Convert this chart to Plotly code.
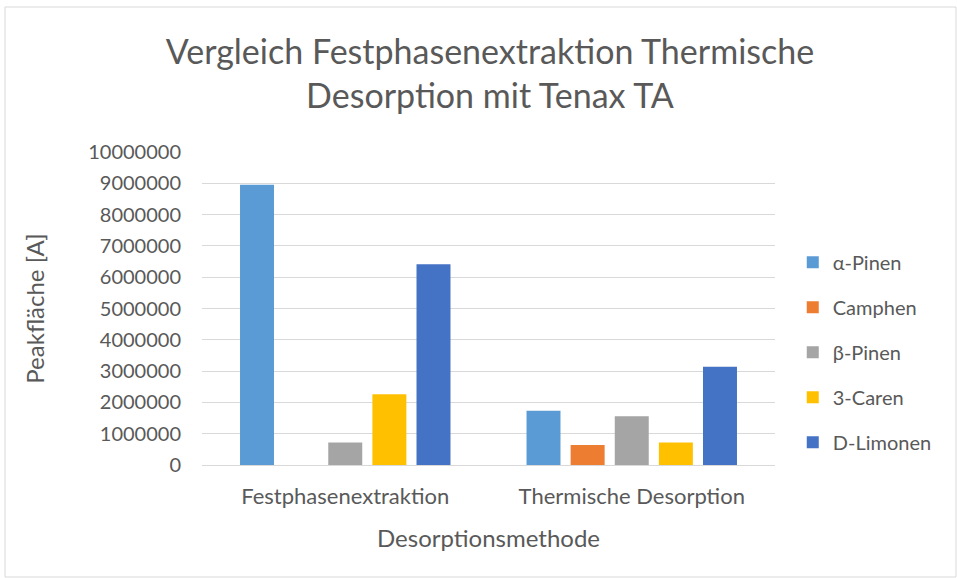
import plotly.graph_objects as go

# Daten
methods = ["Festphasenextraktion", "Thermische Desorption"]
compounds = ["α-Pinen", "Camphen", "β-Pinen", "3-Caren", "D-Limonen"]
alpha_pinen = [8950000, 1730000]
camphen = [0, 640000]
beta_pinen = [720000, 1560000]
caren = [2260000, 720000]
limonen = [6410000, 3140000]
y_ticks = [0, 1000000, 2000000, 3000000, 4000000, 5000000,
           6000000, 7000000, 8000000, 9000000, 10000000]

series = [alpha_pinen, camphen, beta_pinen, caren, limonen]
colors = ["#5B9BD5", "#ED7D31", "#A5A5A5", "#FFC000", "#4472C4"]
TXT = "#595959"
FONT = "Lato, Open Sans, sans-serif"

fig = go.Figure()
for name, vals, col in zip(compounds, series, colors):
    fig.add_trace(go.Bar(
        name=name, x=methods, y=vals,
        marker=dict(color=col, line=dict(width=0)),
        legendgroup=name,
    ))

fig.update_layout(
    width=957, height=578,
    paper_bgcolor="white", plot_bgcolor="white",
    font=dict(family=FONT, color=TXT, size=20),
    margin=dict(l=202, r=182, t=152, b=113, autoexpand=False),
    barmode="group", bargap=0.23, bargroupgap=0.23,
    title=dict(
        text="Vergleich Festphasenextraktion Thermische<br>Desorption mit Tenax TA",
        x=0.512, xanchor="center", y=0.889, yanchor="top",
        font=dict(size=34, color=TXT, family=FONT),
    ),
    legend=dict(
        x=1.031, xanchor="left", y=0.36, yanchor="middle",
        font=dict(size=20, color=TXT), tracegroupgap=16,
        itemwidth=30,
    ),
    xaxis=dict(
        title=dict(text="Desorptionsmethode", font=dict(size=24, color=TXT), standoff=22),
        showline=False, ticks="", ticklabelstandoff=16,
        tickfont=dict(size=22, color=TXT),
    ),
    yaxis=dict(
        title=dict(text="Peakfläche [A]", font=dict(size=24, color=TXT), standoff=36),
        range=[0, 10000000], tickvals=y_ticks,
        ticktext=[str(v) for v in y_ticks],
        showgrid=True, gridcolor="#D9D9D9", gridwidth=1,
        zeroline=True, zerolinecolor="#D9D9D9", zerolinewidth=1,
        ticks="", ticklabelstandoff=20, tickfont=dict(size=20, color=TXT),
    ),
)

# Rahmen um das Diagramm
fig.add_shape(type="rect", xref="paper", yref="paper",
              x0=(5 - 202) / 573, x1=(956 - 202) / 573,
              y0=(465 - 577) / 313, y1=(465 - 7) / 313,
              line=dict(color="#D9D9D9", width=1))

fig.write_html("out.html", config={"displayModeBar": False},
               post_script="document.body.style.margin='0';")
